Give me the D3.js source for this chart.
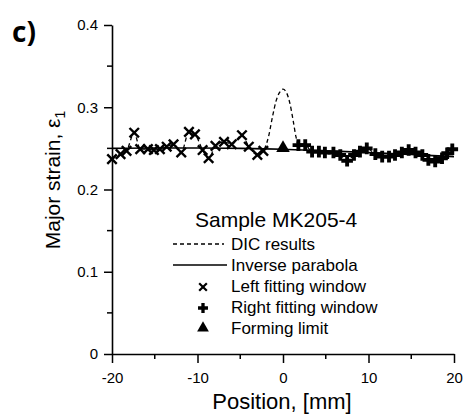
<!DOCTYPE html>
<html>
<head>
<meta charset="utf-8">
<script src="https://cdn.jsdelivr.net/npm/d3@7"></script>
<style>
  body { margin: 0; background: #fff; }
  svg text { font-family: "Liberation Sans", Arial, sans-serif; fill: #000; }
</style>
</head>
<body>
<svg id="svg"></svg>
<script>
// left fitting window (x marks)
const leftX = [-20.0, -19.0, -18.3, -17.4, -16.7, -15.8, -15.1, -14.4, -13.6, -12.8, -11.9,
               -11.0, -10.3, -9.4, -8.7, -7.9, -6.9, -6.0, -4.8, -4.0, -3.0, -2.3];
const leftY = [0.237, 0.243, 0.247, 0.269, 0.249, 0.249, 0.248, 0.249, 0.252, 0.255, 0.245,
               0.270, 0.267, 0.248, 0.238, 0.253, 0.258, 0.255, 0.266, 0.252, 0.242, 0.247];

// right fitting window (plus marks)
const rightX = [1.8, 2.6, 3.4, 4.2, 4.9, 5.9, 6.7, 7.5, 8.3, 9.0, 9.8, 10.8,
                11.6, 12.4, 13.1, 13.9, 14.7, 15.5, 16.3, 17.0, 17.8, 18.6, 19.2, 19.8];
const rightY = [0.254, 0.254, 0.246, 0.246, 0.245, 0.245, 0.242, 0.235, 0.242, 0.246, 0.250, 0.243,
                0.240, 0.240, 0.242, 0.245, 0.248, 0.245, 0.242, 0.236, 0.234, 0.238, 0.244, 0.249];

// DIC peak between the two windows
const peakX = [-1.7, -1.2, -0.8, -0.4, 0.0, 0.4, 0.8, 1.2, 1.5];
const peakY = [0.264, 0.290, 0.308, 0.318, 0.322, 0.318, 0.305, 0.283, 0.265];

// inverse parabola fit
const fitX = [-20, -15, -10, -5, 0, 5, 10, 15, 20];
const fitY = [0.250, 0.2505, 0.2505, 0.250, 0.249, 0.247, 0.245, 0.2425, 0.240];

// forming limit
const limitX = [0];
const limitY = [0.249];

const xTicks = [-20, -10, 0, 10, 20];
const xMinor = [-15, -5, 5, 15];
const yTicks = [0, 0.1, 0.2, 0.3, 0.4];
const yMinor = [0.05, 0.15, 0.25, 0.35];

const legendLabels = ["DIC results", "Inverse parabola", "Left fitting window",
                      "Right fitting window", "Forming limit"];

const w = 465, h = 419;
const svg = d3.select("#svg").attr("width", w).attr("height", h);

const x = d3.scaleLinear().domain([-20, 20]).range([112, 454]);
const y = d3.scaleLinear().domain([0, 0.4]).range([354, 25]);

const zip = (xs, ys) => xs.map((v, i) => [v, ys[i]]);

// axes
const xAxis = svg.append("g").attr("transform", "translate(0,354)")
  .call(d3.axisBottom(x).tickValues(xTicks).tickSize(9).tickSizeOuter(0)
        .tickPadding(9).tickFormat(d => String(d)));
xAxis.append("g").selectAll("line").data(xMinor).enter().append("line")
  .attr("x1", d => x(d)).attr("x2", d => x(d)).attr("y1", 0).attr("y2", 5)
  .attr("stroke", "#000").attr("stroke-width", 1.5);

const yAxis = svg.append("g").attr("transform", "translate(112,0)")
  .call(d3.axisLeft(y).tickValues(yTicks).tickSize(8).tickSizeOuter(0)
        .tickPadding(6).tickFormat(d => d === 0 ? "0" : d.toFixed(1)));
yAxis.append("g").selectAll("line").data(yMinor).enter().append("line")
  .attr("y1", d => y(d)).attr("y2", d => y(d)).attr("x1", 0).attr("x2", -5)
  .attr("stroke", "#000").attr("stroke-width", 1.5);

svg.selectAll(".domain").attr("stroke", "#000").attr("stroke-width", 1.6);
svg.selectAll(".tick line").attr("stroke", "#000").attr("stroke-width", 1.5);
svg.selectAll(".tick text").style("font-size", "15px")
  .style("font-family", "'Liberation Sans', Arial, sans-serif").attr("fill", "#222");

// axis titles
svg.append("text").attr("x", 282).attr("y", 409).attr("text-anchor", "middle")
  .style("font-size", "22px").text("Position, [mm]");

const yl = svg.append("text").attr("transform", "translate(60,180) rotate(-90)")
  .attr("text-anchor", "middle").style("font-size", "21px");
yl.append("tspan").text("Major strain, \u03b5");
yl.append("tspan").attr("dy", 5).style("font-size", "14px").text("1");

svg.append("text").attr("x", 12).attr("y", 42)
  .style("font-size", "28px").style("font-weight", "bold")
  .style("font-family", "'Open Sans', 'Liberation Sans', sans-serif").text("c)");

// DIC dashed curve
const dicPts = zip(leftX, leftY).concat(zip(peakX, peakY), zip(rightX, rightY));
const line = d3.line().x(d => x(d[0])).y(d => y(d[1])).curve(d3.curveMonotoneX);

svg.append("path").datum(dicPts).attr("d", line)
  .attr("fill", "none").attr("stroke", "#000").attr("stroke-width", 1.3)
  .attr("stroke-dasharray", "4,3");

// fitted line
svg.append("path").datum(zip(fitX, fitY)).attr("d", line)
  .attr("fill", "none").attr("stroke", "#000").attr("stroke-width", 1.6);

// markers
const cross = d3.symbol().type(d3.symbolX).size(60);
const plus = d3.symbol().type(d3.symbolCross).size(75);
const tri = d3.symbol().type(d3.symbolTriangle).size(80);
const crossL = d3.symbol().type(d3.symbolX).size(40);
const plusL = d3.symbol().type(d3.symbolCross).size(55);
const triL = d3.symbol().type(d3.symbolTriangle).size(60);

svg.selectAll(".lm").data(zip(leftX, leftY)).enter().append("path")
  .attr("d", cross).attr("transform", d => `translate(${x(d[0])},${y(d[1])})`)
  .attr("fill", "none").attr("stroke", "#000").attr("stroke-width", 2.4);

svg.selectAll(".rm").data(zip(rightX, rightY)).enter().append("path")
  .attr("d", plus).attr("transform", d => `translate(${x(d[0])},${y(d[1])})`)
  .attr("fill", "#000");

svg.selectAll(".fl").data(zip(limitX, limitY)).enter().append("path")
  .attr("d", tri).attr("transform", d => `translate(${x(d[0])},${y(d[1]) - 1})`)
  .attr("fill", "#000");

// legend
const lg = svg.append("g");
lg.append("text").attr("x", 195).attr("y", 227).style("font-size", "21px").text("Sample MK205-4");

const rowY = [250, 271, 292, 313, 334];
lg.selectAll(".lt").data(legendLabels).enter().append("text")
  .attr("x", 231).attr("y", (d, i) => rowY[i]).style("font-size", "17px").text(d => d);

lg.append("line").attr("x1", 173).attr("x2", 224).attr("y1", rowY[0] - 6).attr("y2", rowY[0] - 6)
  .attr("stroke", "#000").attr("stroke-width", 1.3).attr("stroke-dasharray", "4,3");
lg.append("line").attr("x1", 173).attr("x2", 227).attr("y1", rowY[1] - 6).attr("y2", rowY[1] - 6)
  .attr("stroke", "#000").attr("stroke-width", 1.6);
lg.append("path").attr("d", crossL).attr("transform", `translate(203,${rowY[2] - 5})`)
  .attr("fill", "none").attr("stroke", "#000").attr("stroke-width", 2.2);
lg.append("path").attr("d", plusL).attr("transform", `translate(203,${rowY[3] - 5})`)
  .attr("fill", "#000");
lg.append("path").attr("d", triL).attr("transform", `translate(203,${rowY[4] - 6})`)
  .attr("fill", "#000");
</script>
</body>
</html>
